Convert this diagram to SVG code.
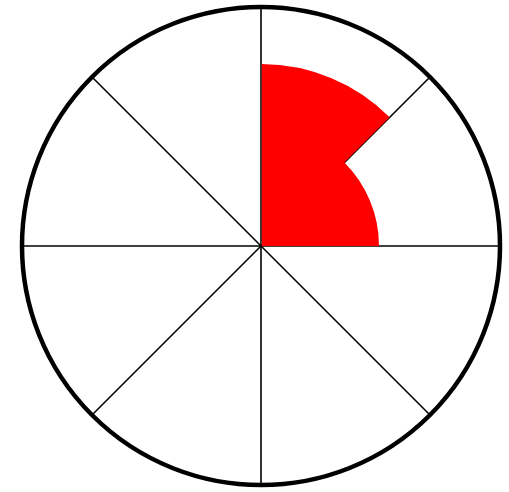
<svg xmlns="http://www.w3.org/2000/svg" width="509" height="492" viewBox="0 0 509 492">
<style>
.spoke{stroke:#000;stroke-width:1.6;fill:none}
.rim{stroke:#000;stroke-width:4.5;fill:none}
.slice{fill:#ff0000;stroke:none}
</style>
<rect width="509" height="492" fill="#fff"/>
<g id="connectors">
<line class="spoke" x1="261" y1="246" x2="261" y2="7"/>
<line class="spoke" x1="261" y1="246" x2="430" y2="77"/>
<line class="spoke" x1="261" y1="246" x2="500" y2="246"/>
<line class="spoke" x1="261" y1="246" x2="430" y2="415"/>
<line class="spoke" x1="261" y1="246" x2="261" y2="485"/>
<line class="spoke" x1="261" y1="246" x2="92" y2="415"/>
<line class="spoke" x1="261" y1="246" x2="22" y2="246"/>
<line class="spoke" x1="261" y1="246" x2="92" y2="77"/>
</g>
<g id="slice">
<path class="slice" d="M261.8,246 L261.8,64 A182,182 0 0 1 389.7,117.3 L344.4,162.6 A118,118 0 0 1 379,246 Z"/>
</g>
<g id="rim">
<circle class="rim" cx="261" cy="246" r="239"/>
</g>
</svg>
